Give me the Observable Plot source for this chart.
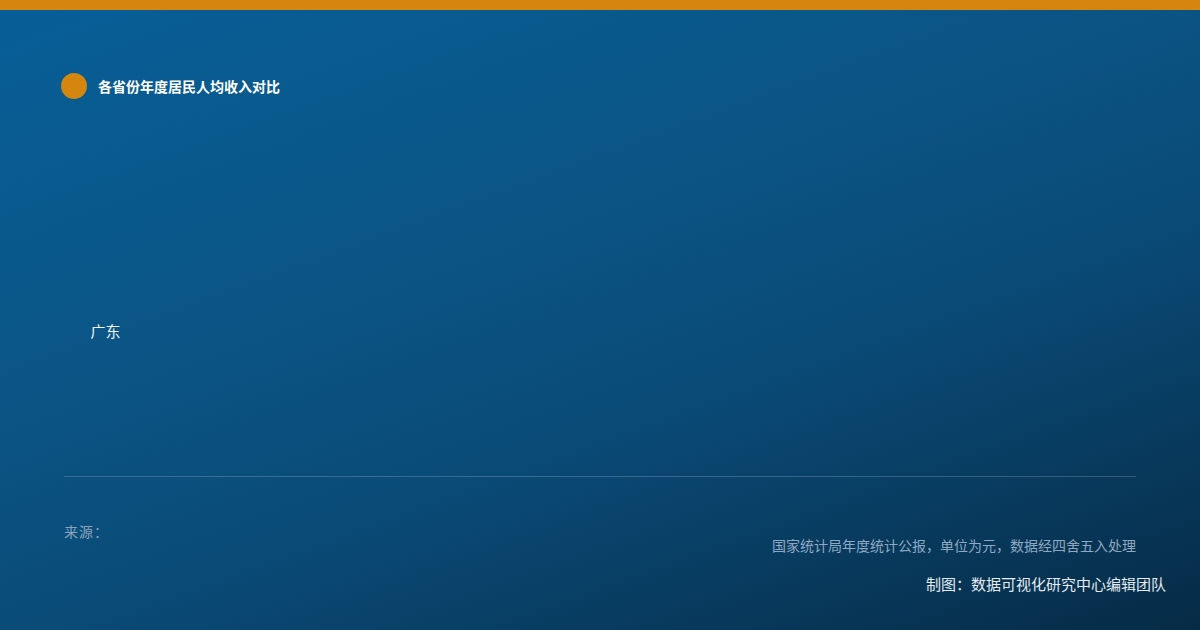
<!DOCTYPE html>
<html>
<head>
<meta charset="utf-8">
<script src="https://cdn.jsdelivr.net/npm/d3@7"></script>
<script src="https://cdn.jsdelivr.net/npm/@observablehq/plot@0.6"></script>
<style>
  html, body { margin: 0; padding: 0; }
  body { width: 1200px; height: 630px; overflow: hidden; font-family: "Noto Sans CJK SC", "Noto Sans", sans-serif; }
  #card { position: relative; width: 1200px; height: 630px;
    background: linear-gradient(160deg, #075f98 0%, #0b5484 40%, #0a4b78 60%, #062b46 100%); overflow: hidden; }
  #bar { position: absolute; left: 0; top: 0; width: 1200px; height: 10px; background: #d4860f; }
  #dot { position: absolute; left: 61px; top: 73px; width: 26px; height: 26px; border-radius: 50%; background: #d4860f; }
  .t { position: absolute; white-space: nowrap; line-height: 1; }
  #title { left: 98px; top: 79px; font-size: 14px; font-weight: 600; color: #ffffff; }
  #chart { position: absolute; left: 0; top: 200px; }
  #rule { position: absolute; left: 64px; top: 476px; width: 1072px; height: 1px; background: rgba(255,255,255,0.18); }
  #source { left: 64px; top: 524px; font-size: 14px; letter-spacing: 1px; color: #8ba4bb; }
  #caption { right: 64px; top: 538px; font-size: 14px; color: #8fa9c2; }
  #credit { right: 34px; top: 576px; font-size: 15px; color: #e4ebf2; }
</style>
</head>
<body>
<div id="card">
  <div id="bar"></div>
  <div id="dot"></div>
  <div id="title" class="t"></div>
  <div id="chart"></div>
  <div id="rule"></div>
  <div id="source" class="t"></div>
  <div id="caption" class="t"></div>
  <div id="credit" class="t"></div>
</div>
<script>
// ---- data ----
const titleText = "各省份年度居民人均收入对比";
const categories = ["广东"];
const values = [0];
const sourceText = "来源：";
const captionText = "国家统计局年度统计公报，单位为元，数据经四舍五入处理";
const creditText = "制图：数据可视化研究中心编辑团队";

document.getElementById("title").textContent = titleText;
document.getElementById("source").textContent = sourceText;
document.getElementById("caption").textContent = captionText;
document.getElementById("credit").textContent = creditText;

const rows = categories.map((c, i) => ({category: c, value: values[i]}));

const chart = Plot.plot({
  width: 1200,
  height: 264,
  marginTop: 0,
  marginBottom: 0,
  marginLeft: 125,
  marginRight: 64,
  style: {background: "transparent", color: "#eef3f8", fontSize: "15px", fontFamily: "'Noto Sans CJK SC', sans-serif"},
  x: {axis: null, domain: [0, 1]},
  y: {domain: categories, label: null, tickSize: 0, tickPadding: 5},
  marks: [
    Plot.barX(rows, {x: "value", y: "category", fill: "#d4860f"})
  ]
});
document.getElementById("chart").appendChild(chart);
</script>
</body>
</html>
